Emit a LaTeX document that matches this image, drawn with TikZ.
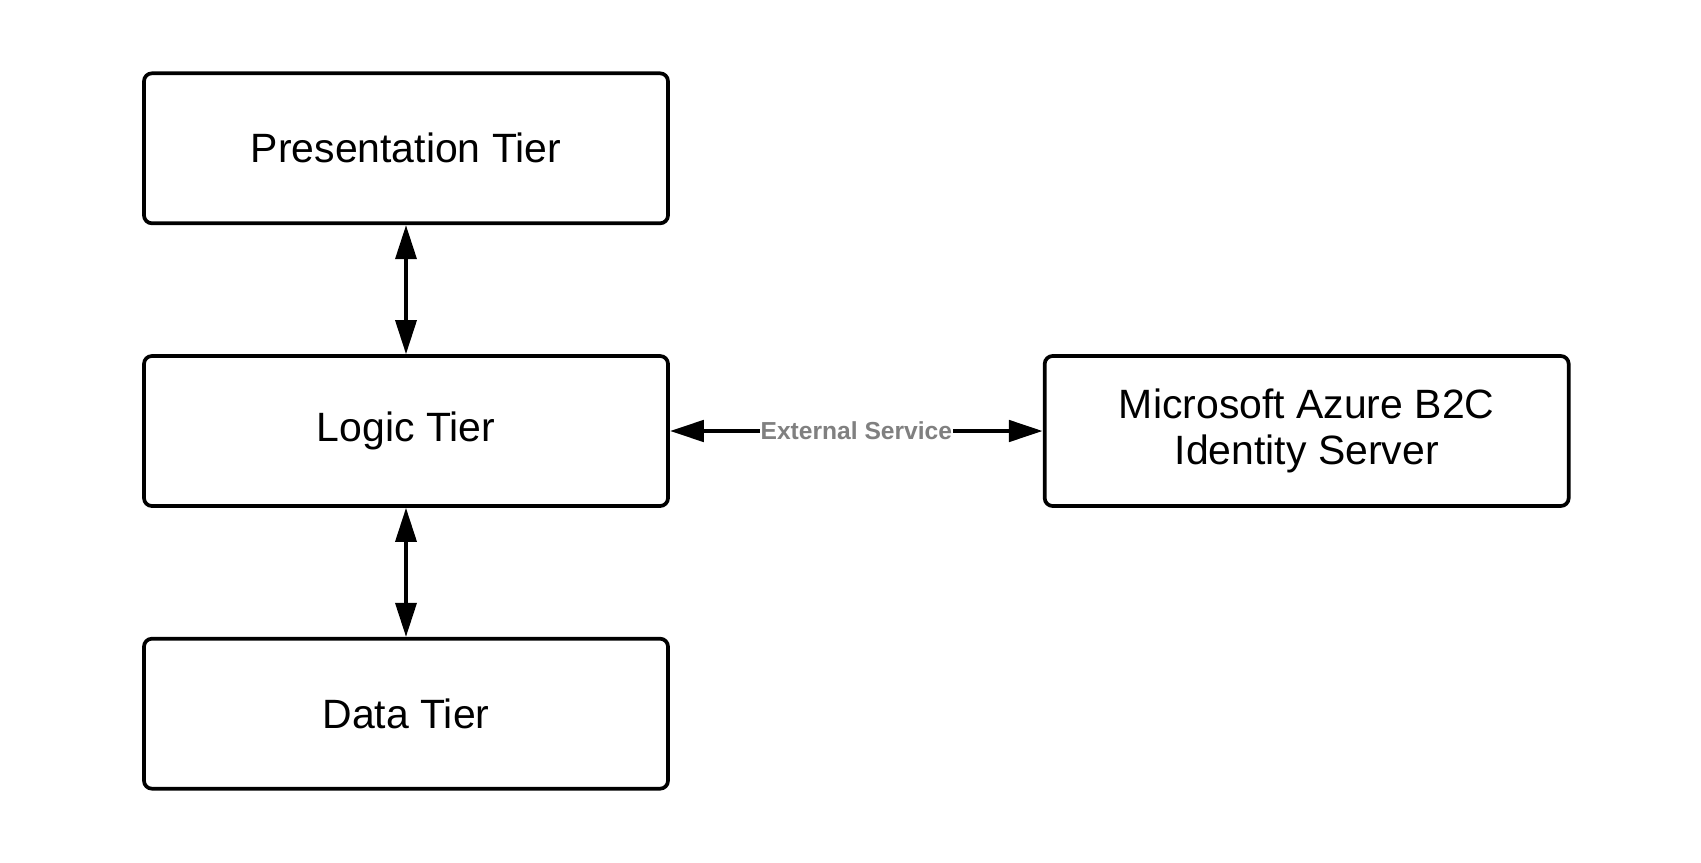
\documentclass[tikz,border=0pt]{standalone}
\usepackage{fontspec}
\setmainfont{Liberation Sans}
\usetikzlibrary{positioning,arrows.meta}

\begin{document}
\begin{tikzpicture}[
  tier/.style={rectangle, draw, line width=2.1pt, rounded corners=4.5pt,
    minimum width=10.48cm, minimum height=3cm, align=center,
    font=\fontsize{23.3}{28}\selectfont},
  link/.style={line width=2pt, {Triangle[length=0.68cm,width=0.42cm]}-{Triangle[length=0.68cm,width=0.42cm]}},
  tag/.style={fill=white, inner sep=0.5pt, text=black!50,
    font=\bfseries\fontsize{14}{16}\selectfont}
]
\useasboundingbox (0,0) rectangle (34.02,-17.26);
\node[tier] (logic) at (8.12,-8.62) {Logic Tier};
\node[tier, above=2.58cm of logic] (present) {Presentation Tier};
\node[tier, below=2.58cm of logic] (data) {Data Tier};
\node[tier, right=7.46cm of logic] (azure) {Microsoft Azure B2C\\[-0.05cm]Identity Server};

\draw[link] (present) -- (logic);
\draw[link] (logic) -- (data);
\draw[link, line width=2.8pt] (logic) -- node[tag] {External Service} (azure);
\end{tikzpicture}
\end{document}
